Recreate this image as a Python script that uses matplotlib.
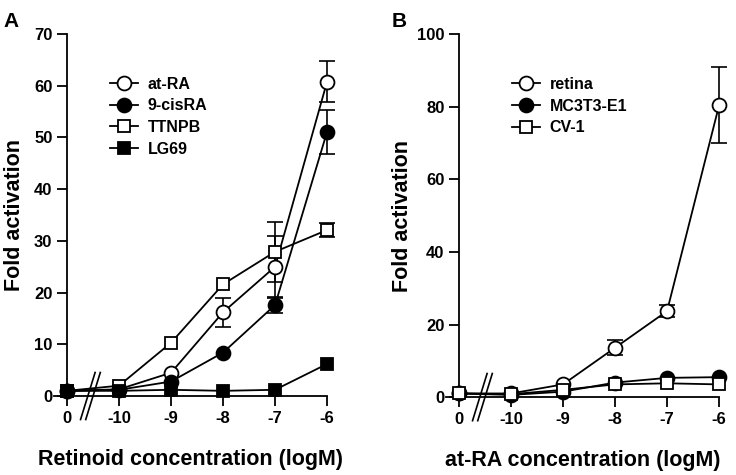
import numpy as np
import matplotlib
matplotlib.use("Agg")
import matplotlib.pyplot as plt

plt.rcParams['font.family'] = ['Liberation Sans', 'DejaVu Sans']
plt.rcParams['font.weight'] = 'bold'

# x positions: 0 (no ligand), then -10 ... -6 logM
xlabels = ['0', '-10', '-9', '-8', '-7', '-6']
xpos = np.arange(len(xlabels))

# panel A: retinoids
a_names = ['at-RA', '9-cisRA', 'TTNPB', 'LG69']
a_vals = [
    [1.0, 1.3, 4.5, 16.2, 25.0, 60.8],
    [1.0, 1.2, 2.8, 8.4, 17.6, 51.1],
    [1.0, 2.0, 10.3, 21.6, 27.9, 32.1],
    [1.0, 1.0, 1.2, 1.0, 1.2, 6.2],
]
a_err = [
    [0, 0, 0, 2.8, 6.0, 4.0],
    [0, 0, 0, 0, 1.5, 4.2],
    [0, 0, 0, 0, 5.8, 1.3],
    [0, 0, 0, 0, 0, 0],
]

# panel B: cell lines with at-RA
b_names = ['retina', 'MC3T3-E1', 'CV-1']
b_vals = [
    [1.0, 1.0, 3.5, 13.6, 23.7, 80.4],
    [1.0, 0.6, 1.5, 4.0, 5.3, 5.5],
    [1.0, 0.8, 2.0, 3.5, 3.8, 3.5],
]
b_err = [
    [0, 0, 0, 2.0, 1.6, 10.5],
    [0, 0, 0, 0, 0, 0],
    [0, 0, 0, 0, 0, 0],
]

styles = [('o', 'white'), ('o', 'black'), ('s', 'white'), ('s', 'black')]

fig = plt.figure(figsize=(7.36, 4.75), dpi=100)
axA = fig.add_axes([0.0734, 0.1663, 0.371, 0.762])
axB = fig.add_axes([0.606, 0.164, 0.371, 0.764])


def draw_panel(ax, names, vals, errs, ymax, ystep, xlab, letter, leg_anchor):
    for i, name in enumerate(names):
        m, fc = styles[i]
        v = np.array(vals[i])
        e = np.array(errs[i], dtype=float)
        k = e > 0
        if k.any():
            ax.errorbar(xpos[k], v[k], yerr=e[k], fmt='none', ecolor='black',
                        elinewidth=1.2, capsize=6, capthick=1.2, clip_on=False, zorder=2)
        ax.plot(xpos, v, marker=m, color='black', mfc=fc, mec='black',
                ms=10 if m == 'o' else 8.7, mew=1.3, lw=1.3, label=name,
                clip_on=False, zorder=3 + i * 0.1)
    ax.set_xlim(-0.25, 5)
    ax.set_ylim(0, ymax)
    ax.spines['top'].set_visible(False)
    ax.spines['right'].set_visible(False)
    ax.spines['left'].set_position(('data', 0))
    for s in ('left', 'bottom'):
        ax.spines[s].set_linewidth(1.3)
    ax.set_xticks(xpos)
    ax.set_xticklabels(xlabels)
    ax.set_yticks(np.arange(0, ymax + 1, ystep))
    ax.tick_params(direction='out', length=7, width=1.3, labelsize=12)
    for t in ax.get_xticklabels() + ax.get_yticklabels():
        t.set_fontweight('bold')
    ax.set_xlabel(xlab, fontsize=15.5, fontweight='bold', labelpad=17)
    ax.set_ylabel('Fold activation', fontsize=15.5, fontweight='bold')
    # axis break marks
    bx = 0.45
    dy = ymax * 0.065
    for off in (-0.05, 0.05):
        ax.plot([bx + off - 0.14, bx + off + 0.14], [-dy, dy], color='black',
                lw=1.2, clip_on=False, zorder=4)
    leg = ax.legend(loc='upper left', bbox_to_anchor=leg_anchor, frameon=False,
                    fontsize=11.5, handlelength=1.75, handletextpad=0.6,
                    labelspacing=0.42, borderaxespad=0)
    for t in leg.get_texts():
        t.set_fontweight('bold')
    return ax.text(0, 1.06, letter, transform=ax.transAxes, fontsize=15,
                   fontweight='bold', va='top', ha='left')


tA = draw_panel(axA, a_names, a_vals, a_err, 70, 10,
                'Retinoid concentration (logM)', 'A', (0.182, 0.9))
axA.yaxis.set_label_coords(-0.106, 0.5)
tA.set_x(-0.185)
tB = draw_panel(axB, b_names, b_vals, b_err, 100, 20,
                'at-RA concentration (logM)', 'B', (0.218, 0.9))
axB.yaxis.set_label_coords(-0.122, 0.5)
tB.set_x(-0.2)

fig.savefig('out.png', dpi=100)
